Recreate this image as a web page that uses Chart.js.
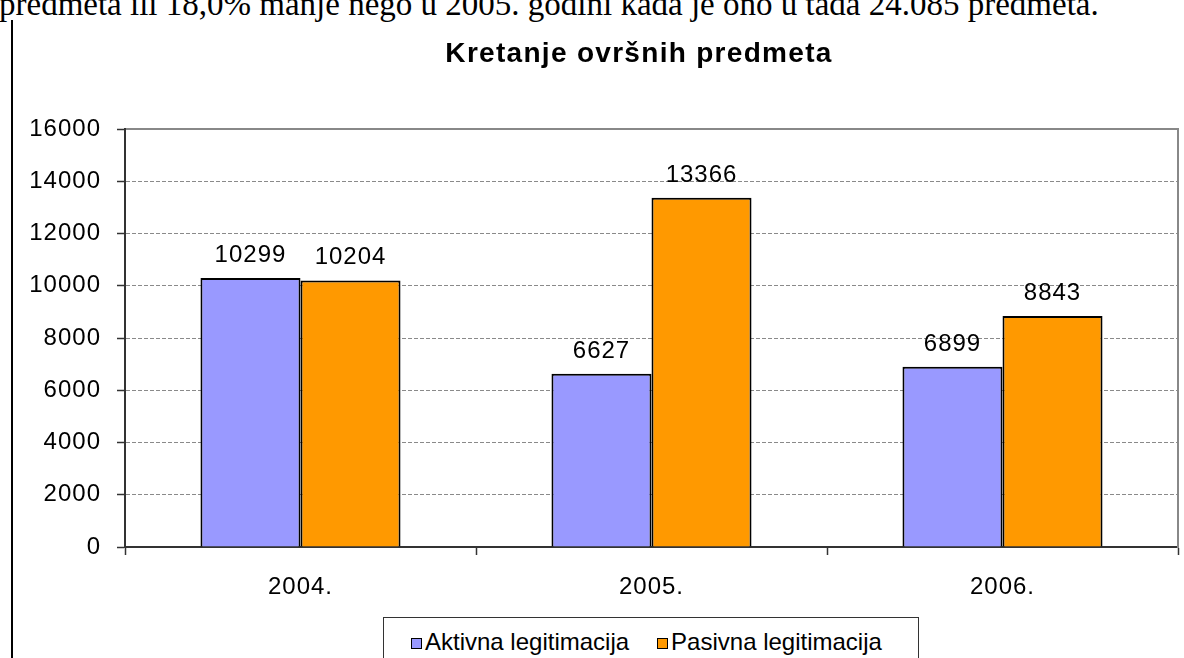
<!DOCTYPE html>
<html>
<head>
<meta charset="utf-8">
<script src="https://cdn.jsdelivr.net/npm/chart.js@4"></script>
<style>
    body { margin: 0; background: #fff; width: 1184px; height: 658px; overflow: hidden; position: relative; font-family: "Liberation Sans", Arial, sans-serif; }
    #page-text { position: absolute; left: -1px; top: -12px; font: 33px/33px "Liberation Serif", "Times New Roman", serif; white-space: nowrap; color: #000; }
    #frame { position: absolute; left: 11px; top: 20px; height: 700px; border-left: 2px solid #000; }
    #chart-title { position: absolute; left: 0; top: 39px; width: 1278px; text-align: center; font: bold 28px/28px "Liberation Sans", Arial, sans-serif; letter-spacing: 1.3px; color: #000; }
    #wrap { position: absolute; left: 0; top: 0; width: 1184px; height: 658px; }
    #legend { position: absolute; left: 383px; top: 617px; width: 536px; height: 60px; box-sizing: border-box; border: 1.5px solid #333; background: #fff; display: flex; align-items: flex-start; padding: 10px 0 0 27px; gap: 28px; }
    .item { display: flex; align-items: center; font-size: 24px; line-height: 28px; height: 28px; color: #000; }
    .swatch { width: 9px; height: 9px; border: 1.5px solid #000; margin-right: 3px; margin-top: 3px; }
</style>
</head>
<body>
<div id="page-text">predmeta ili 18,0% manje nego u 2005. godini kada je ono u tada 24.085 predmeta.</div>
<div id="frame"></div>
<div id="wrap"><canvas id="ovrsniChart" width="1184" height="658"></canvas></div>
<div id="chart-title">Kretanje ovršnih predmeta</div>
<div id="legend"></div>

<script>
// Data
const years = ['2004.', '2005.', '2006.'];
const aktivna = [10299, 6627, 6899];
const pasivna = [10204, 13366, 8843];
const seriesNames = ['Aktivna legitimacija', 'Pasivna legitimacija'];
const seriesColors = ['#9999FF', '#FF9900'];
const yTicks = [0, 2000, 4000, 6000, 8000, 10000, 12000, 14000, 16000];

const FONT = '"Liberation Sans", Arial, sans-serif';

// Value labels above each bar
const barValues = {
    id: 'barValues',
    afterDatasetsDraw(chart) {
        const ctx = chart.ctx;
        ctx.save();
        ctx.font = '24px ' + FONT;
        ctx.fillStyle = '#000';
        ctx.textAlign = 'center';
        ctx.textBaseline = 'alphabetic';
        chart.data.datasets.forEach((ds, i) => {
            chart.getDatasetMeta(i).data.forEach((bar, j) => {
                ctx.fillText(String(ds.data[j]), bar.x, bar.y - 16);
            });
        });
        ctx.restore();
    }
};

// Excel-like slightly spaced text
const spacing = {
    id: 'spacing',
    beforeDraw(chart) {
        chart.ctx.letterSpacing = '1px';
    }
};

new Chart(document.getElementById('ovrsniChart'), {
    type: 'bar',
    data: {
        labels: years,
        datasets: [
            { label: seriesNames[0], data: aktivna, backgroundColor: seriesColors[0], borderColor: '#000', borderWidth: 2 },
            { label: seriesNames[1], data: pasivna, backgroundColor: seriesColors[1], borderColor: '#000', borderWidth: 2 }
        ]
    },
    options: {
        responsive: false,
        animation: false,
        devicePixelRatio: 1,
        layout: { padding: { left: 0, right: 6, top: 129, bottom: 0 } },
        datasets: { bar: { categoryPercentage: 0.57, barPercentage: 1 } },
        plugins: {
            legend: { display: false },
            title: { display: false },
            tooltip: { enabled: false }
        },
        scales: {
            x: {
                position: 'bottom',
                afterFit: s => { s.height = 111; },
                grid: { drawOnChartArea: false, drawTicks: true, tickLength: 8, tickColor: '#333', tickWidth: 1.5, offset: true },
                border: { color: '#333', width: 2 },
                ticks: { color: '#000', font: { size: 24, family: FONT }, padding: 18 }
            },
            x2: {
                type: 'category',
                position: 'top',
                afterFit: s => { s.height = 0; },
                grid: { display: false },
                border: { color: '#888', width: 2 },
                ticks: { display: false }
            },
            y: {
                min: 0,
                max: 16000,
                afterFit: s => { s.width = 125; },
                afterBuildTicks: s => { s.ticks = yTicks.map(v => ({ value: v })); },
                grid: { color: '#8a8a8a', lineWidth: 1, tickLength: 8, tickColor: '#333', tickWidth: 1.5 },
                border: { color: '#333', width: 2, dash: [4, 2] },
                ticks: { color: '#000', font: { size: 24, family: FONT }, padding: 16, callback: v => String(v) }
            },
            y2: {
                position: 'right',
                min: 0,
                max: 16000,
                afterFit: s => { s.width = 0; },
                grid: { display: false },
                border: { color: '#888', width: 2 },
                ticks: { display: false }
            }
        }
    },
    plugins: [spacing, barValues]
});

// HTML legend built from the series
const legend = document.getElementById('legend');
seriesNames.forEach((name, i) => {
    const item = document.createElement('div');
    item.className = 'item';
    const sw = document.createElement('span');
    sw.className = 'swatch';
    sw.style.background = seriesColors[i];
    item.appendChild(sw);
    item.appendChild(document.createTextNode(name));
    legend.appendChild(item);
});
</script>
</body>
</html>
